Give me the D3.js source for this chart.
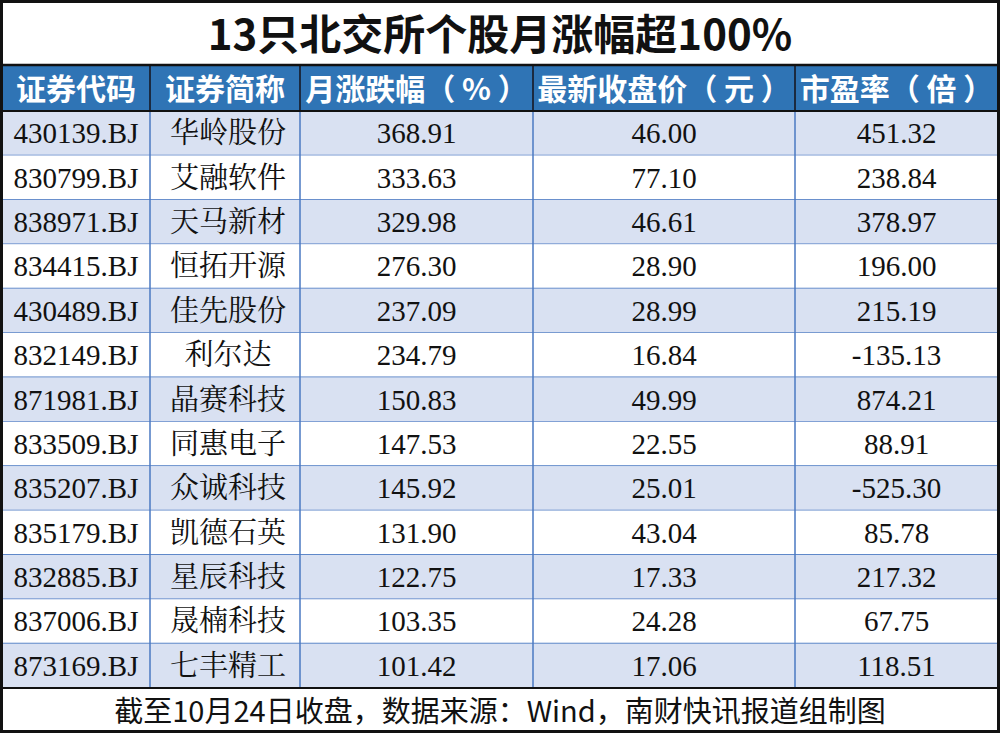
<!DOCTYPE html><html><head><meta charset="utf-8"><script src="https://cdn.jsdelivr.net/npm/d3@7"></script>
<style>body{margin:0;background:#fff}</style></head><body><svg id="c" width="1000" height="733"></svg>
<script>
const title="13只北交所个股月涨幅超100%";
const headers=["证券代码","证券简称","月涨跌幅（ % ）","最新收盘价（ 元 ）","市盈率（ 倍 ）"];
const codes=["430139.BJ","830799.BJ","838971.BJ","834415.BJ","430489.BJ","832149.BJ","871981.BJ","833509.BJ","835207.BJ","835179.BJ","832885.BJ","837006.BJ","873169.BJ"];
const names=["华岭股份","艾融软件","天马新材","恒拓开源","佳先股份","利尔达","晶赛科技","同惠电子","众诚科技","凯德石英","星辰科技","晟楠科技","七丰精工"];
const change=["368.91","333.63","329.98","276.30","237.09","234.79","150.83","147.53","145.92","131.90","122.75","103.35","101.42"];
const price=["46.00","77.10","46.61","28.90","28.99","16.84","49.99","22.55","25.01","43.04","17.33","24.28","17.06"];
const pe=["451.32","238.84","378.97","196.00","215.19","-135.13","874.21","88.91","-525.30","85.78","217.32","67.75","118.51"];
const footer="截至10月24日收盘，数据来源：Wind，南财快讯报道组制图";
const svg=d3.select("#c");
const colEdges=[2,150,300,533,795,998];
const x=i=>colEdges[i];
const rowsTop=111,rowsBot=688;
const y=d3.scaleBand().domain(d3.range(codes.length)).range([rowsTop,rowsBot]);
const rows=codes.map((c,i)=>[c,names[i],change[i],price[i],pe[i]]);
const sans="'Noto Sans CJK SC','Noto Sans',sans-serif", serif="'Liberation Serif','Noto Serif CJK SC',serif";
svg.append("text").attr("x",500).attr("y",50).attr("text-anchor","middle").attr("font-family",sans).attr("font-weight","bold").attr("font-size",42).attr("fill","#111").text(title);
svg.append("rect").attr("x",2).attr("y",65).attr("width",996).attr("height",46).attr("fill","#2f74b5");
headers.forEach((h,i)=>svg.append("text").attr("x",(x(i)+x(i+1))/2).attr("y",100).attr("text-anchor","middle").attr("font-family",sans).attr("font-weight","bold").attr("font-size",30).attr("textLength",i<2?null:null).attr("fill","#fff").text(h));
rows.forEach((r,i)=>{
 svg.append("rect").attr("x",2).attr("y",y(i)).attr("width",996).attr("height",y.bandwidth()).attr("fill",i%2?"#ffffff":"#d9e1f2");
 r.forEach((v,j)=>svg.append("text").attr("x",(x(j)+x(j+1))/2+(j==1?3:0)).attr("y",y(i)+y.bandwidth()/2+10).attr("text-anchor","middle").attr("font-family",serif).attr("font-size",29).attr("fill","#111").text(v));
 svg.append("line").attr("x1",2).attr("x2",998).attr("y1",y(i)+y.bandwidth()).attr("y2",y(i)+y.bandwidth()).attr("stroke","#4a78c2").attr("stroke-width",1.5);
});
for(let j=1;j<5;j++){
 svg.append("line").attr("x1",x(j)).attr("x2",x(j)).attr("y1",65).attr("y2",111).attr("stroke","#1b2a40").attr("stroke-width",2);
 svg.append("line").attr("x1",x(j)).attr("x2",x(j)).attr("y1",111).attr("y2",rowsBot).attr("stroke","#4a78c2").attr("stroke-width",1.5);
}
svg.append("line").attr("x1",2).attr("x2",998).attr("y1",65).attr("y2",65).attr("stroke","#111").attr("stroke-width",2.5);
svg.append("line").attr("x1",2).attr("x2",998).attr("y1",111).attr("y2",111).attr("stroke","#111").attr("stroke-width",2);
svg.append("line").attr("x1",2).attr("x2",998).attr("y1",rowsBot).attr("y2",rowsBot).attr("stroke","#111").attr("stroke-width",2);
svg.append("text").attr("x",500).attr("y",722).attr("text-anchor","middle").attr("font-family",sans).attr("font-size",29).attr("fill","#111").text(footer);
svg.append("rect").attr("x",1.5).attr("y",1.5).attr("width",997).attr("height",730).attr("fill","none").attr("stroke","#111").attr("stroke-width",3);
</script></body></html>
